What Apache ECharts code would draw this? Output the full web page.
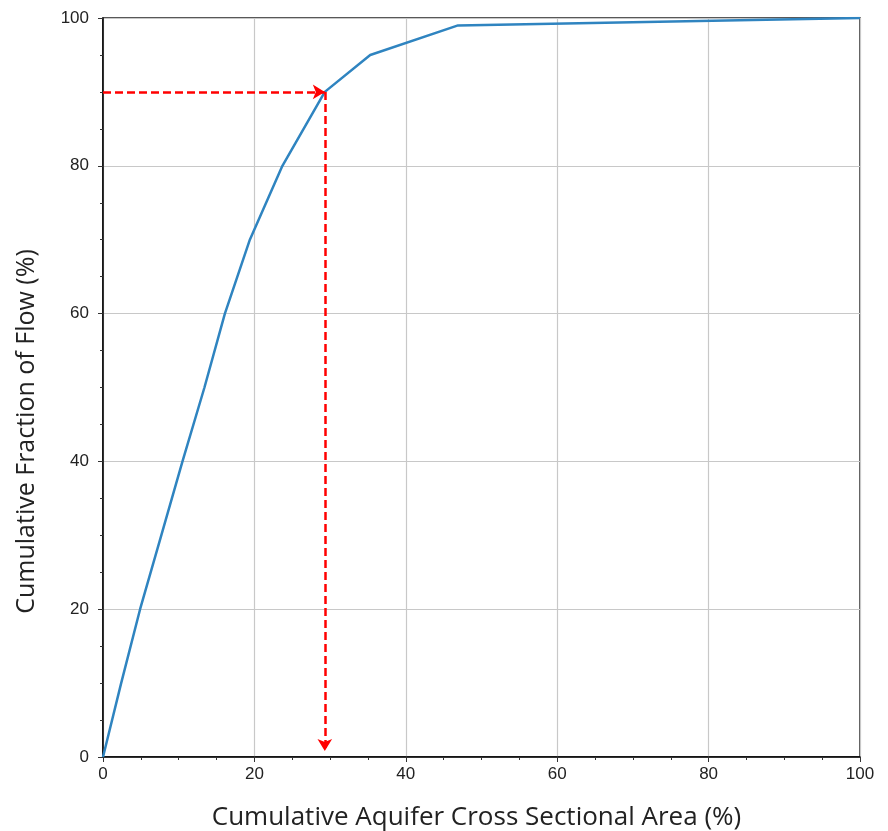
<!DOCTYPE html>
<html>
<head>
<meta charset="utf-8">
<script src="https://cdn.jsdelivr.net/npm/echarts@6/dist/echarts.min.js"></script>
<style>html,body{margin:0;padding:0;background:#fff}#c{width:888px;height:831px}</style>
</head>
<body>
<div id="c"></div>
<script>
const areaPct = [0, 2.4, 4.9, 7.7, 10.5, 13.4, 16.1, 19.4, 23.7, 29.3, 35.3, 46.9, 100];
const flowPct = [0, 10, 20, 30, 40, 50, 60, 70, 80, 90, 95, 99, 100];
const markerX = 29.3;
const markerY = 90;
const arrowBottomY = 0.8;
const xTitle = 'Cumulative Aquifer Cross Sectional Area (%)';
const yTitle = 'Cumulative Fraction of Flow (%)';

const chart = echarts.init(document.getElementById('c'));
const tickFont = {color: '#222', fontSize: 17, fontFamily: '"Liberation Sans", Arial, sans-serif'};
const titleFont = {color: '#222', fontFamily: '"Open Sans", sans-serif'};
const axisCommon = {
  min: 0, max: 100, interval: 20,
  axisLine: {show: true, onZero: false, lineStyle: {color: '#000', width: 1.5}},
  axisTick: {show: true, inside: false, length: 5, lineStyle: {color: '#333'}},
  minorTick: {show: true, splitNumber: 4, length: 3, lineStyle: {color: '#333'}},
  splitLine: {show: true, lineStyle: {color: '#c8c8c8', width: 1.2}}
};
chart.setOption({
  animation: false,
  grid: {left: 103, right: 28, top: 18, bottom: 74, containLabel: false, outerBoundsMode: 'none',
         show: true, borderColor: '#222', borderWidth: 1.5},
  xAxis: Object.assign({}, axisCommon, {
    type: 'value', name: xTitle, nameLocation: 'middle', nameGap: 48,
    nameTextStyle: Object.assign({fontSize: 26, padding: [0, 10, 0, 0]}, titleFont),
    axisLabel: Object.assign({}, tickFont, {margin: 9})
  }),
  yAxis: Object.assign({}, axisCommon, {
    type: 'value', name: yTitle, nameLocation: 'middle', nameGap: 64,
    nameTextStyle: Object.assign({fontSize: 25, padding: [0, 88, 0, 0]}, titleFont),
    axisLabel: Object.assign({}, tickFont, {margin: 14})
  }),
  series: [{
    type: 'line',
    data: areaPct.map((x, i) => [x, flowPct[i]]),
    showSymbol: false,
    lineStyle: {color: '#2f84c0', width: 2.5},
    z: 3,
    markLine: {
      silent: true,
      symbol: ['none', 'arrow'],
      symbolSize: [11, 12],
      label: {show: false},
      lineStyle: {color: '#ff0000', type: [8, 4], width: 2.5, opacity: 1},
      data: [
        [{coord: [0, markerY]}, {coord: [markerX, markerY]}],
        [{coord: [markerX, markerY]}, {coord: [markerX, arrowBottomY]}]
      ]
    }
  }]
});
</script>
</body>
</html>
